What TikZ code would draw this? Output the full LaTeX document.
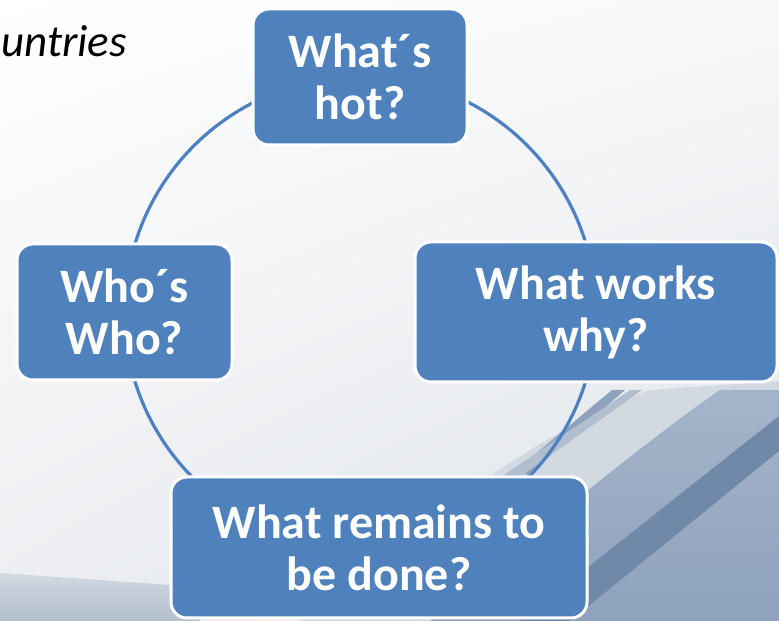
\documentclass[tikz,border=0pt]{standalone}
\usepackage{fontspec}
\setmainfont{Carlito}
\usepackage{xcolor}
\usetikzlibrary{positioning, calc, backgrounds, shadings}
\definecolor{cBox}{RGB}{79,129,189}
\definecolor{cRing}{RGB}{76,128,194}
\definecolor{cMist}{RGB}{211,217,224}
\definecolor{cFog}{RGB}{236,238,241}
\definecolor{cSlate}{RGB}{142,162,188}
\definecolor{cSlateDk}{RGB}{113,137,169}
\definecolor{cSlab}{RGB}{179,191,205}
\tikzset{
	qbox/.style ={rectangle, rounded corners=16pt, draw=white, line width=3pt, fill=cBox, text=white, align=center, inner sep=0pt, font=\fontsize{48}{52}\selectfont\bfseries},
	ring/.style ={draw=cRing, line width=3.2pt},
	band/.style ={draw=none},
}
\begin{document}
\begin{tikzpicture}[x=1pt, y=1pt]
	\useasboundingbox (0,0) rectangle (779,621);
	\coordinate (c) at (360,309);
	\node[qbox, minimum width=214pt, minimum height=136pt] (q1) at ($(c)+(90:235)$) {What´s\\hot?};
	\node[qbox, minimum width=215pt, minimum height=136pt] (q2) at ($(c)+(180:235.5)$) {Who´s\\Who?};
	\node[qbox, minimum width=362pt, minimum height=140pt] (q3) at ($(c)+(0:236)$) {What works\\why?};
	\node[qbox, minimum width=416pt, minimum height=141pt] (q4) at ($(c)+(19,-235.5)$) {What remains to\\be done?};
	\node[anchor=base west, inner sep=0pt, font=\fontsize{45}{52}\selectfont\itshape] (hdr) at (1,564) {untries};
	\begin{scope}[on background layer]
		% backdrop
		\shade[upper left=white, upper right=cFog!40, lower left=cFog, lower right=cMist!80] (0,0) rectangle (779,621);
		\shade[band, top color=cSlab!60, bottom color=cSlab] (0,0) -- (0,48) -- (170,36) -- (200,0) -- cycle;
		\fill[band, cMist] (300,0) .. controls (430,110) and (560,200) .. (650,231) -- (779,240) -- (779,0) -- cycle;
		\shade[band, top color=cSlate!80, bottom color=cSlate] (430,0) .. controls (560,110) and (660,190) .. (720,231) -- (779,231) -- (779,0) -- cycle;
		\fill[band, cSlateDk] (520,0) -- (779,205) -- (779,170) -- (570,0) -- cycle;
		\fill[band, cSlateDk!80] (515,150) -- (612,231) -- (625,231) -- (528,146) -- cycle;
		\fill[band, cSlate!70] (480,130) -- (630,231) -- (642,231) -- (492,124) -- cycle;
		% ring
		\draw[ring] (q1.center) arc[start angle=90, end angle=180, radius=235];
		\draw[ring] (q2.center) arc[start angle=180, end angle=270, radius=235];
		\draw[ring] (q3.center) arc[start angle=0, end angle=-90, radius=236];
		\draw[ring] (q3.center) arc[start angle=0, end angle=90, radius=236];
	\end{scope}
\end{tikzpicture}
\end{document}
